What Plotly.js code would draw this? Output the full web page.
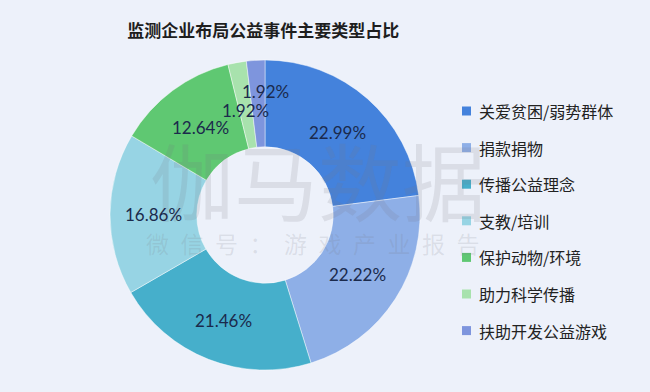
<!DOCTYPE html>
<html>
<head>
<meta charset="utf-8">
<script src="https://cdn.plot.ly/plotly-3.0.1.min.js"></script>
<style>
html,body{margin:0;padding:0;background:#edf1fa;}
#chart{width:650px;height:392px;}
</style>
</head>
<body>
<div id="chart"></div>
<script>
// ---- data ----
const categories = ["关爱贫困/弱势群体","捐款捐物","传播公益理念","支教/培训","保护动物/环境","助力科学传播","扶助开发公益游戏"];
const shares = [22.99, 22.22, 21.46, 16.86, 12.64, 1.92, 1.92];
const colors = ["#4482dc","#8eafe7","#46afcb","#97d4e4","#5fc872","#a8e2ad","#7e95dd"];
const titleText = "监测企业布局公益事件主要类型占比";
const watermarkMain = "伽马数据";
const watermarkSub = ["微","信","号","：","游","戏","产","业","报","告"];

// ---- geometry (pixels) ----
const W = 650, H = 392;
const cx = 265, cy = 215, R = 155, holeFrac = 0.44;
const labelR = [110, 110, 113, 112, 109, 106, 124];
const labelShift = [0, 0, 0, 0, 0, 0, 8];

const total = shares.reduce((a,b)=>a+b,0);
const annotations = [];

// chart maker watermark (drawn first, under the labels)
annotations.push({xref:'paper', yref:'paper', x:318/W, y:1-178/H, showarrow:false,
  text:watermarkMain, font:{family:'"Noto Sans CJK SC", sans-serif', size:84, color:'rgba(120,120,130,0.16)'}});
annotations.push({xref:'paper', yref:'paper', x:313/W, y:1-243/H, showarrow:false,
  text:watermarkSub.join('\u2002'), font:{family:'"Noto Sans CJK SC", sans-serif', size:23, color:'rgba(120,120,130,0.16)'}});

let cum = 0;
shares.forEach((v,i)=>{
  const mid = (cum + v/2)/total * 2*Math.PI;
  cum += v;
  const r = labelR[i];
  const px = cx + r*Math.sin(mid) + labelShift[i];
  const py = cy - r*Math.cos(mid);
  annotations.push({
    xref:'paper', yref:'paper', x: px/W, y: 1 - py/H,
    xanchor:'center', yanchor:'middle', showarrow:false,
    text: v.toFixed(2) + '%',
    font:{family:'Lato, "Open Sans", sans-serif', size:17, color:'#1b2a4c'}
  });
});

// legend built from categories
const legTop = 111, legStep = 36.6, legX = 462;
const shapes = [];
categories.forEach((c,i)=>{
  const y = legTop + i*legStep;
  shapes.push({type:'rect', xref:'paper', yref:'paper',
    x0: legX/W, x1: (legX+9)/W, y0: 1-(y+4.5)/H, y1: 1-(y-4.5)/H,
    fillcolor: colors[i], line:{width:0}});
  annotations.push({xref:'paper', yref:'paper', x:(legX+15)/W, y:1-y/H,
    xanchor:'left', yanchor:'middle', showarrow:false, text:c,
    font:{family:'"Noto Sans CJK SC", sans-serif', size:16, color:'#222'}});
});

const trace = {
  type:'pie',
  labels: categories,
  values: shares,
  sort:false,
  direction:'clockwise',
  rotation:0,
  hole: holeFrac,
  marker:{colors: colors, line:{color:'rgba(255,255,255,0.45)', width:1}},
  textinfo:'none',
  hoverinfo:'label+percent',
  showlegend:false,
  domain:{x:[(cx-R)/W,(cx+R)/W], y:[1-(cy+R)/H, 1-(cy-R)/H]}
};

const layout = {
  width:W, height:H,
  margin:{l:0,r:0,t:0,b:0},
  paper_bgcolor:'#edf1fa',
  plot_bgcolor:'#edf1fa',
  title:{text:titleText, x:0.405, xanchor:'center', y:1-31/H, yanchor:'middle',
    font:{family:'"Noto Sans CJK SC", sans-serif', size:17, color:'#1e1e1e', weight:700}},
  annotations: annotations,
  shapes: shapes,
  showlegend:false
};

Plotly.newPlot('chart',[trace],layout,{displayModeBar:false, staticPlot:true});
</script>
</body>
</html>
